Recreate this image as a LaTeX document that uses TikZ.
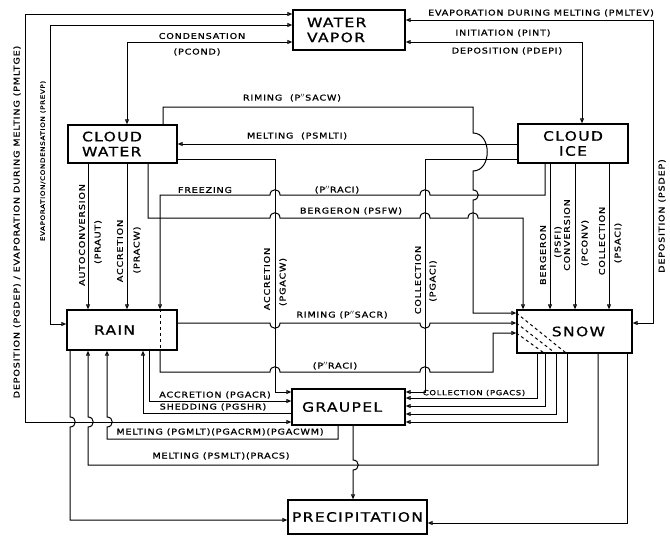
\documentclass[tikz,border=0pt]{standalone}
\usepackage{fontspec}
\setmainfont{DejaVu Sans}[FakeStretch=1.2, LetterSpace=10, FakeBold=1]
\usetikzlibrary{arrows.meta}

\tikzset{
  box/.style={draw, line width=1.4pt, inner sep=0pt, font=\fontsize{13}{15}\selectfont},
  lbl/.style={inner sep=0pt, font=\fontsize{8}{9}\selectfont},
  vlbl/.style={lbl, rotate=90},
}
\newcommand{\pp}{$''$}

\begin{document}
\begin{tikzpicture}[>={Triangle[open, length=5pt, width=4pt]}, x=1pt, y=-1pt, line width=1pt]
    \useasboundingbox (0,0) rectangle (670,538);

    % 跨线的小弯: \hopR{x}{y} 水平线向上跳, \dipR{x}{y} 向下跳, \hopD{x}{y} 竖线向右跳
    \newcommand{\hopR}[2]{-- (#1-5,#2) .. controls (#1-5,#2-7) and (#1+5,#2-7) .. (#1+5,#2)}
    \newcommand{\dipR}[2]{-- (#1-5,#2) .. controls (#1-5,#2+7) and (#1+5,#2+7) .. (#1+5,#2)}
    \newcommand{\hopD}[2]{-- (#1,#2-5) .. controls (#1+7,#2-5) and (#1+7,#2+5) .. (#1,#2+5)}

    % 方框
    \node[box, minimum width=112, minimum height=40, text width=84, align=left] (vapor) at (349,30) {WATER\\VAPOR};
    \node[box, minimum width=109, minimum height=38, text width=81, align=left] (cwater) at (122.5,144) {CLOUD\\WATER};
    \node[box, minimum width=110, minimum height=39, align=center] (cice) at (573,143.5) {CLOUD\\ICE};
    \node[box, minimum width=110, minimum height=40, text width=56, align=left] (rain) at (122,330) {RAIN};
    \node[box, minimum width=115, minimum height=43, text width=61, align=right] (snow) at (574.5,331.5) {SNOW};
    \node[box, minimum width=113, minimum height=36, text width=93, align=left] (graupel) at (348.5,407) {GRAUPEL};
    \node[box, minimum width=139, minimum height=34, align=center] (precip) at (357.5,517) {PRECIPITATION};

    % 水汽
    \draw[<->] (graupel.west |- 0,422) -- (25,422) -- (25,14) -- (vapor.west |- 0,14);
    \draw[<->] (rain.west |- 0,324) -- (50,324) -- (50,25) -- (vapor.west |- 0,25);
    \draw[<->] (cwater.north -| 127,0) -- (127,42) -- (vapor.west |- 0,42);
    \draw[<->] (snow.east |- 0,323) -- (653,323) -- (653,20) -- (vapor.east |- 0,20);
    \draw[<->] (cice.north -| 582,0) -- (582,42) -- (vapor.east |- 0,42);

    % 云水
    \draw[->] (cwater.south -| 88,0) -- (rain.north -| 88,0);
    \draw[->] (cwater.south -| 127,0) -- (rain.north -| 127,0);
    \draw[->] (cwater.east |- 0,159) -- (275,159) -- (275,392) -- (graupel.west |- 0,392);
    \draw[->] (cwater.south -| 148,0) -- (148,218) \hopR{275}{218} \hopR{425}{218} \hopR{473}{218} -- (523,218) -- (snow.north -| 523,0);
    \draw[->] (cwater.north -| 163,0) -- (163,107) -- (473,107) -- (473,133) .. controls (492,133) and (492,171) .. (473,171) \hopD{473}{195} -- (473,313) -- (snow.west |- 0,313);

    % 云冰
    \draw[->] (cice.west |- 0,144) -- (cwater.east |- 0,144);
    \draw[->] (cice.west |- 0,159) -- (425,159) -- (425,392) -- (graupel.east |- 0,392);
    \draw[<-] (rain.north -| 160,0) -- (160,195) \hopR{275}{195} \hopR{425}{195} -- (545,195) -- (cice.south -| 545,0);
    \draw[->] (cice.south -| 550,0) -- (snow.north -| 550,0);
    \draw[->] (cice.south -| 575,0) -- (snow.north -| 575,0);
    \draw[->] (cice.south -| 609,0) -- (snow.north -| 609,0);

    % 雨
    \draw[dashed] (rain.north -| 160,0) -- (rain.south -| 160,0);
    \draw[->] (rain.south -| 160,0) -- (160,372) \hopR{275}{372} \hopR{425}{372} -- (493,372) -- (493,333) -- (snow.west |- 0,333);
    \draw[->] (rain.east |- 0,323) \dipR{275}{323} \dipR{425}{323} -- (snow.west |- 0,323);
    \draw[->] (rain.south -| 149,0) -- (149,401) -- (graupel.west |- 0,401);
    \draw[<-] (rain.south -| 143,0) -- (143,413) -- (graupel.west |- 0,413);
    \draw[->] (rain.south -| 70,0) \hopD{70}{422} -- (70,520) -- (precip.west |- 0,520);
    \draw[<-] (rain.south -| 88,0) \hopD{88}{422} -- (88,465) -- (598,465) -- (snow.south -| 598,0);
    \draw[<-] (rain.south -| 107,0) \hopD{107}{422} -- (107,439) -- (338,439) -- (graupel.south -| 338,0);

    % 雪
    \foreach \y/\x in {313/567, 323/556, 333/545}
      \draw[dashed] (snow.west |- 0,\y) -- (snow.south -| \x,0);
    \foreach \x/\y in {537/398, 545/406, 556/414, 567/422}
      \draw[->] (snow.south -| \x,0) -- (\x,\y) -- (graupel.east |- 0,\y);
    \draw[->] (snow.south -| 627,0) -- (627,523) -- (precip.east |- 0,523);

    % 霰
    \draw[->] (graupel.south -| 353,0) \hopD{353}{465} -- (precip.north -| 353,0);

    % 标注
    \node[lbl] (tcond) at (202,36) {CONDENSATION};
    \node[lbl] (tpcond) at (197,52) {(PCOND)};
    \node[lbl] (tpint) at (503,33) {INITIATION (PINT)};
    \node[lbl] (tpdepi) at (507,51) {DEPOSITION (PDEPI)};
    \node[lbl] (tpmltev) at (541,13) {EVAPORATION DURING MELTING (PMLTEV)};
    \node[lbl] (tsacw) at (292,98) {RIMING\ \ (P\pp SACW)};
    \node[lbl] (tsmlti) at (297,136) {MELTING\ \ (PSMLTI)};
    \node[lbl] (tfrz) at (205,190) {FREEZING};
    \node[lbl] (traci) at (337,190) {(P\pp RACI)};
    \node[lbl] (tpsfw) at (351,211) {BERGERON (PSFW)};
    \node[vlbl] (tautoa) at (82,235) {AUTOCONVERSION};
    \node[vlbl] (tautob) at (98,242) {(PRAUT)};
    \node[vlbl] (tpracwa) at (120,251) {ACCRETION};
    \node[vlbl] (tpracwb) at (137,250) {(PRACW)};
    \node[vlbl] (tpgacwa) at (267,279) {ACCRETION};
    \node[vlbl] (tpgacwb) at (283,282) {(PGACW)};
    \node[vlbl] (tpgacia) at (418,280) {COLLECTION};
    \node[vlbl] (tpgacib) at (433,281) {(PGACI)};
    \node[vlbl] (tpsfia) at (543,255) {BERGERON};
    \node[vlbl] (tpsfib) at (558,242) {(PSFI)};
    \node[vlbl] (tpconva) at (567,235) {CONVERSION};
    \node[vlbl] (tpconvb) at (585,243) {(PCONV)};
    \node[vlbl] (tpsacia) at (602,241) {COLLECTION};
    \node[vlbl] (tpsacib) at (618,243) {(PSACI)};
    \node[vlbl] (tpsdep) at (662,216) {DEPOSITION (PSDEP)};
    \node[vlbl] (tpgdep) at (17,222) {DEPOSITION (PGDEP) / EVAPORATION DURING MELTING (PMLTGE)};
    \node[vlbl, font=\fontsize{6}{7}\selectfont] (tprevp) at (43,161) {EVAPORATION/CONDENSATION (PREVP)};
    \node[lbl] (tsacr) at (342,315) {RIMING (P\pp SACR)};
    \node[lbl] (traci2) at (335,366) {(P\pp RACI)};
    \node[lbl] (tpgacr) at (215,395) {ACCRETION (PGACR)};
    \node[lbl] (tpgshr) at (213,407) {SHEDDING (PGSHR)};
    \node[lbl, font=\fontsize{7}{8}\selectfont] (tpgacs) at (474,393) {COLLECTION (PGACS)};
    \node[lbl] (tpgmlt) at (220,432) {MELTING (PGMLT)(PGACRM)(PGACWM)};
    \node[lbl] (tpsmlt) at (221,456) {MELTING (PSMLT)(PRACS)};
\end{tikzpicture}
\end{document}
